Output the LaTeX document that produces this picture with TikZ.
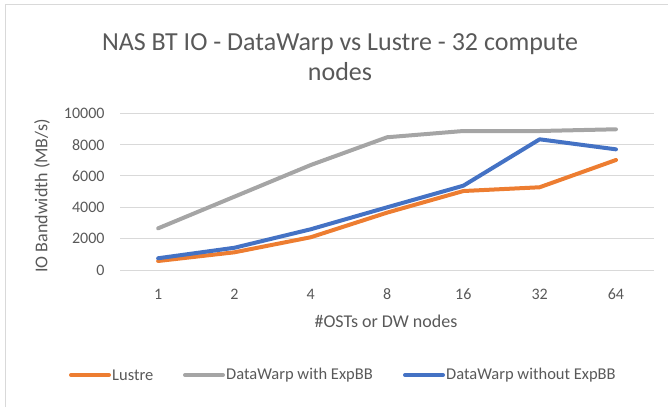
\documentclass[tikz,border=0pt]{standalone}
\usepackage{fontspec}
\setmainfont{Carlito}
\usetikzlibrary{positioning}
\definecolor{lustre}{HTML}{ED7D31}
\definecolor{withbb}{HTML}{A5A5A5}
\definecolor{withoutbb}{HTML}{4472C4}
\definecolor{gridgray}{HTML}{D9D9D9}
\definecolor{labelgray}{HTML}{595959}
\tikzset{
  frame/.style      = {draw=gridgray, line width=1.5pt},
  grid line/.style  = {draw=gridgray, line width=1pt},
  series/.style     = {line width=4pt, line cap=round, line join=round},
  tick label/.style = {text=labelgray, inner sep=0pt, font=\fontsize{16}{16}\selectfont},
  axis title/.style = {text=labelgray, inner sep=0pt, font=\fontsize{18}{18}\selectfont},
  chart title/.style= {text=labelgray, align=center, inner sep=0pt,
                       font=\fontsize{26}{30}\selectfont},
  legend line/.style= {line width=4pt, line cap=round},
  legend text/.style= {text=labelgray, inner sep=0pt, anchor=west,
                       font=\fontsize{16.5}{16.5}\selectfont}
}

\begin{document}
\begin{tikzpicture}[x=1pt,y=-1pt]
\useasboundingbox (0,0) rectangle (668,407);

% chart border
\draw[frame] (5.5,407) -- (5.5,4.5) -- (668,4.5);

% title
\node[chart title] (title) at (340,57) {NAS BT IO - DataWarp vs Lustre - 32 compute\\nodes};

% plot area
\begin{scope}[xshift=120pt, yshift=-270pt, x=76.3pt, y=0.015667pt]
  \foreach \v in {0,2000,...,10000}
    \draw[grid line] (0,\v) -- (7,\v)
      node[tick label, anchor=east, pos=0, xshift=-15pt] (y\v) {\v};
  \foreach \lab [count=\i] in {1,2,4,8,16,32,64}
    \node[tick label] (x\i) at ([yshift=-24pt]\i-0.5,0) {\lab};

  % series
  \draw[series, lustre] plot coordinates {(0.5,575) (1.5,1130) (2.5,2090) (3.5,3660)
    (4.5,5040) (5.5,5280) (6.5,7020)};
  \draw[series, withbb] plot coordinates {(0.5,2660) (1.5,4680) (2.5,6700) (3.5,8470)
    (4.5,8870) (5.5,8870) (6.5,8980)};
  \draw[series, withoutbb] plot coordinates {(0.5,750) (1.5,1420) (2.5,2600) (3.5,4000)
    (4.5,5380) (5.5,8340) (6.5,7700)};
\end{scope}

% axis titles
\node[axis title, rotate=90] (ytitle) at (42,196) {IO Bandwidth (MB/s)};
\node[axis title] (xtitle) at (386,321) {\#OSTs or DW nodes};

% legend
\coordinate (l1a) at (71,375);
\coordinate[right=38pt of l1a] (l1b);
\node[legend text, right=3pt of l1b] (l1) {Lustre};
\coordinate (l2a) at (185,375);
\coordinate[right=38pt of l2a] (l2b);
\node[legend text, right=3pt of l2b] (l2) {DataWarp with ExpBB};
\coordinate (l3a) at (405,375);
\coordinate[right=38pt of l3a] (l3b);
\node[legend text, right=3pt of l3b] (l3) {DataWarp without ExpBB};
\draw[legend line, lustre] (l1a) -- (l1b);
\draw[legend line, withbb] (l2a) -- (l2b);
\draw[legend line, withoutbb] (l3a) -- (l3b);
\end{tikzpicture}
\end{document}
